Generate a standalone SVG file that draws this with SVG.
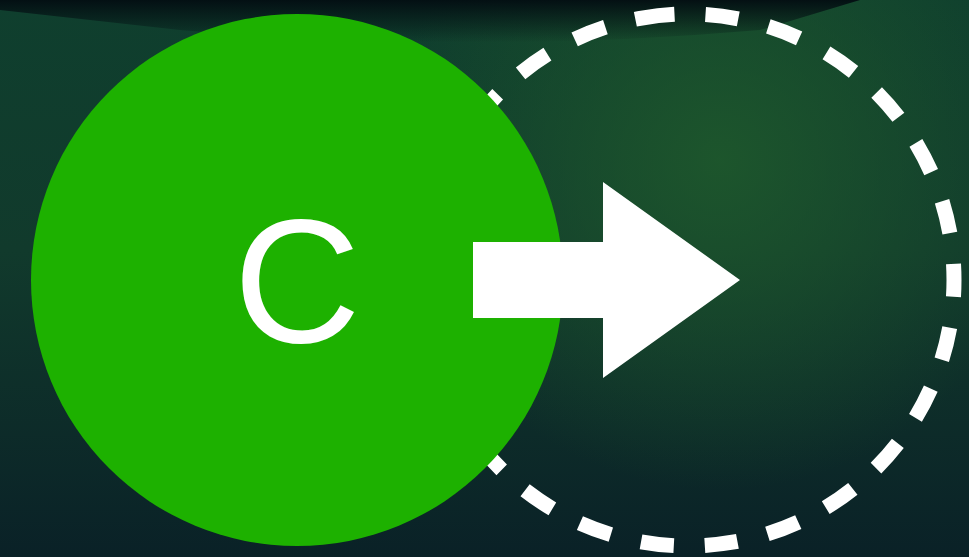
<svg xmlns="http://www.w3.org/2000/svg" width="969" height="557" viewBox="0 0 969 557">
  <defs>
    <linearGradient id="bg" x1="0" y1="0" x2="0" y2="1">
      <stop offset="0" stop-color="#0f3f2e"/>
      <stop offset="0.45" stop-color="#113a2c"/>
      <stop offset="1" stop-color="#0a2127"/>
    </linearGradient>
    <radialGradient id="glow" cx="720" cy="160" r="330" gradientUnits="userSpaceOnUse">
      <stop offset="0" stop-color="#1f5a2c" stop-opacity="0.85"/>
      <stop offset="1" stop-color="#1f5a2c" stop-opacity="0"/>
    </radialGradient>
    <linearGradient id="topdark" x1="0" y1="0" x2="0" y2="1">
      <stop offset="0" stop-color="#030d12" stop-opacity="0.95"/>
      <stop offset="1" stop-color="#030d12" stop-opacity="0"/>
    </linearGradient>
    <style>
      .node-main { fill: #1db100; }
      .node-target { fill: none; stroke: #ffffff; stroke-width: 15; stroke-dasharray: 33 31; }
      .label { font-family: "Liberation Sans", Arial, sans-serif; font-size: 176px; fill: #ffffff; }
      .arrow { fill: #ffffff; }
    </style>
  </defs>
  <rect width="969" height="557" fill="url(#bg)"/>
  <rect width="969" height="557" fill="url(#glow)"/>
  <path d="M0 0 H860 L760 30 Q470 55 180 30 L0 10 Z" fill="url(#topdark)"/>
  <g id="node-target">
    <circle class="node-target" cx="688" cy="280" r="266" transform="rotate(-100 688 280)"/>
  </g>
  <g id="node-c">
    <circle class="node-main" cx="297" cy="280" r="266"/>
    <text class="label" x="297" y="342" text-anchor="middle">C</text>
  </g>
  <g id="connectors">
    <path class="arrow" d="M473 242 H603 V182 L740 280 L603 378 V318 H473 Z"/>
  </g>
</svg>
